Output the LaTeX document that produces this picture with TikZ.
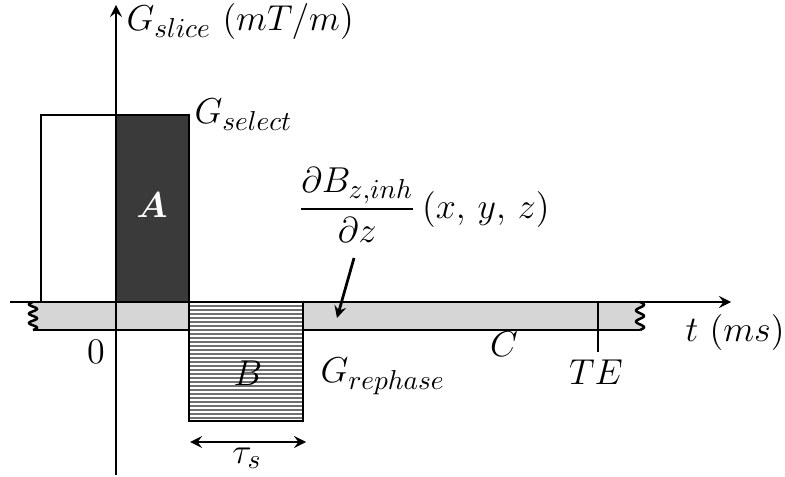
\documentclass[tikz,border=0pt]{standalone}
\usepackage{amsmath,amssymb}
\usepackage{tikz}
\DeclareMathSizes{14}{14}{11}{9}
\definecolor{stripgray}{HTML}{D6D6D6}
\definecolor{pulsedark}{HTML}{3A3A3A}
\definecolor{hatchgray}{HTML}{707070}

\begin{document}
\begin{tikzpicture}[x=0.4pt,y=-0.4pt,>=stealth,font=\fontsize{14}{17}\selectfont,
  pulse/.style={draw,line width=1.1pt},
  lbl/.style={inner sep=0pt}]
  \useasboundingbox (0,0) rectangle (785,477);
  \fill[stripgray] (33,302)
    -- plot[variable=\t,domain=0:1,samples=40] ({33-4*sin(1080*\t)},{302+28*\t})
    -- plot[variable=\t,domain=1:0,samples=40] ({640+4*sin(900*\t)},{302+28*\t})
    -- cycle;
  \draw[line width=1pt] plot[variable=\t,domain=0:1,samples=40] ({33-4*sin(1080*\t)},{302+28*\t});
  \draw[line width=1pt] plot[variable=\t,domain=0:1,samples=40] ({640+4*sin(900*\t)},{302+28*\t});
  \draw[line width=1.1pt] (33,330) -- (640,330);
  \draw[pulse,fill=white] (41,302) rectangle (116,115);
  \draw[pulse,fill=pulsedark] (116,302) rectangle (189,115);
  \fill[white] (189,302) rectangle (303,421);
  \foreach \yy in {306,310,...,418}
    \draw[hatchgray,line width=0.5pt] (189,\yy) -- (303,\yy);
  \draw[pulse] (189,302) rectangle (303,421);
  \draw[line width=1.1pt] (598,302) -- (598,352);
  \coordinate (yfoot) at (116,475);
  \coordinate (ytip) at (116,5);
  \coordinate (xfoot) at (10,302);
  \coordinate (xtip) at (731,302);
  \draw[line width=1.1pt,->] (yfoot) -- (ytip);
  \draw[line width=1.1pt,->] (xfoot) -- (xtip);
  \node[lbl,anchor=west] (gslice) at (126,22) {$G_{slice}\ (mT/m)$};
  \node[lbl,anchor=base west] (gselect) at (194,124) {$G_{select}$};
  \node[lbl,text=white] (areaA) at (152,205) {$\boldsymbol{A}$};
  \node[lbl] (gradB) at (424,205) {$\dfrac{\partial B_{z,inh}}{\partial z}\,(x,\,y,\,z)$};
  \node[lbl] (zero) at (96,352) {$0$};
  \node[lbl] (areaC) at (504,344) {$C$};
  \node[lbl] (te) at (596,372) {$TE$};
  \node[lbl] (tlabel) at (735,333) {$t\ (ms)$};
  \node[lbl] (areaB) at (248,373) {$B$};
  \node[lbl,anchor=base west] (grephase) at (320,383) {$G_{rephase}$};
  \node[lbl] (tau) at (247,458) {$\tau_s$};
  \coordinate (gradtail) at (354,258);
  \coordinate (gradtip) at (337,318);
  \draw[line width=1.1pt,->] (gradtail) -- (gradtip);
  \coordinate (tauL) at (190,442);
  \coordinate (tauR) at (306,442);
  \draw[line width=1.1pt,<->] (tauL) -- (tauR);
\end{tikzpicture}
\end{document}
